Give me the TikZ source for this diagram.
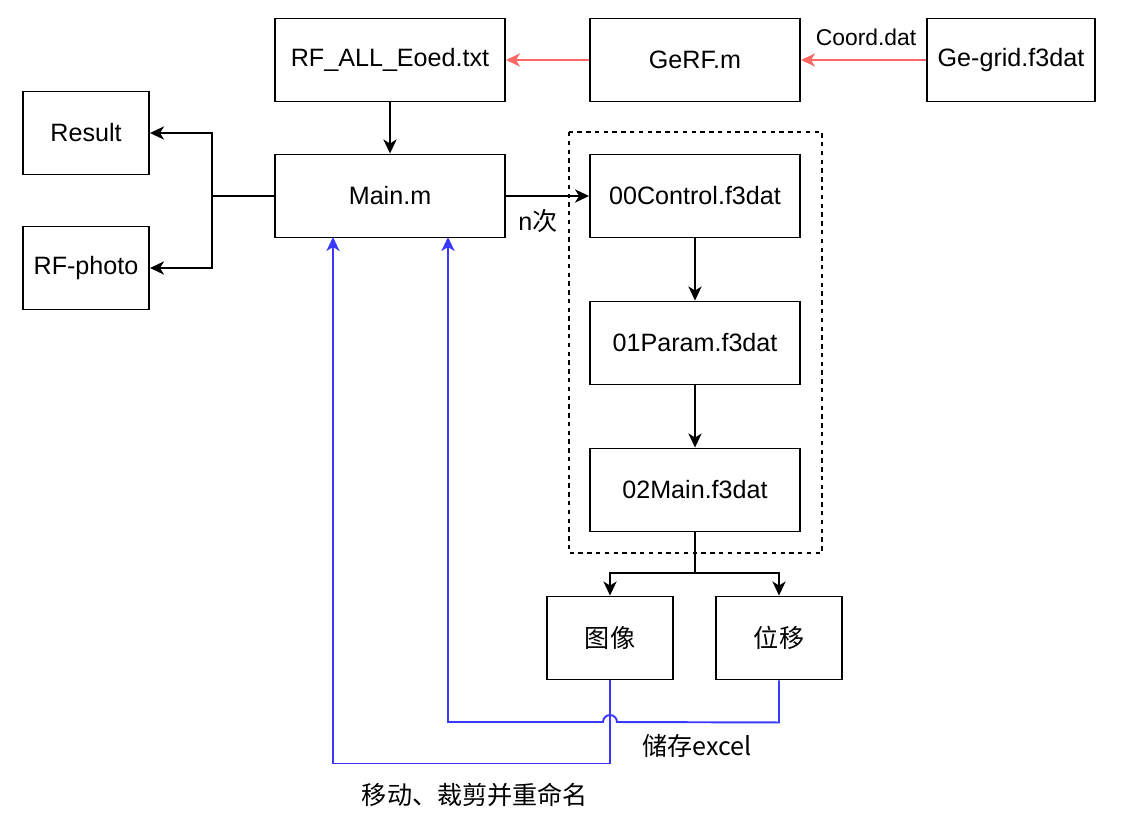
\documentclass[tikz,border=0pt]{standalone}
\usepackage{fontspec}
\setmainfont{Liberation Sans}
\newfontfamily\cjk{Noto Sans CJK SC}
\usetikzlibrary{arrows.meta}
\definecolor{linkred}{HTML}{FF6666}
\definecolor{linkblue}{HTML}{3838FF}

\begin{document}
\begin{tikzpicture}[
    x=0.02cm, y=-0.02cm,
    txt/.style={font=\fontsize{14.3}{17}\selectfont},
    box/.style={txt, draw, line width=1.1pt, inner sep=0pt, minimum height=1.66cm, minimum width=#1},
    arrow/.style={-{Stealth[length=8pt, width=7.5pt, inset=2.3pt]}, line width=1.1pt}
]
\useasboundingbox (0,0) rectangle (1121,829);

% top row
\node[box=4.6cm]  (rfall) at (390,60)  {RF\_ALL\_Eoed.txt};
\node[box=4.2cm]  (gerf)  at (695,60)  {GeRF.m};
\node[box=3.36cm] (grid)  at (1011,60) {Ge-grid.f3dat};

% left column
\node[box=2.52cm] (result) at (86,133) {Result};
\node[box=2.52cm] (photo)  at (86,268) {RF-photo};
\node[box=4.6cm]  (main)   at (390,196) {Main.m};

% loop body
\draw[dashed, dash pattern=on 2.5pt off 2.5pt, line width=1.1pt] (569,132) rectangle (822,553);
\node[box=4.2cm] (control) at (695,196) {00Control.f3dat};
\node[box=4.2cm] (param)   at (695,343) {01Param.f3dat};
\node[box=4.2cm] (mainf)   at (695,490) {02Main.f3dat};

% outputs
\node[box=2.52cm] (image) at (610,638) {\cjk 图像};
\node[box=2.52cm] (disp)  at (779,638) {\cjk 位移};

\coordinate (split) at (212,196);
\coordinate (fork)  at (695,573);
\coordinate (inL)   at (333,237);
\coordinate (inR)   at (448,237);

% red links
\draw[arrow, linkred] (gerf.west) -- (rfall.east);
\draw[arrow, linkred] (grid.west) -- (gerf.east);
\node[font=\fontsize{13}{15}\selectfont, fill=white, inner sep=1pt] (coord) at (866,37) {Coord.dat};

% black links
\draw[arrow] (rfall.south) -- (main.north);
\draw[line width=1.1pt] (main.west) -- (split);
\draw[arrow] (split) |- (result.east);
\draw[arrow] (split) |- (photo.east);
\draw[arrow] (main.east) -- (control.west);
\node[txt] (times) at (538,221) {n{\cjk 次}};
\draw[arrow] (control.south) -- (param.north);
\draw[arrow] (param.south) -- (mainf.north);
\draw[line width=1.1pt] (mainf.south) -- (fork);
\draw[arrow] (fork) -| (image.north);
\draw[arrow] (fork) -| (disp.north);

% blue links back to Main.m
\draw[arrow, linkblue] (image.south) -- ++(0,83) -| (inL);
\draw[arrow, linkblue] (disp.south) -- ++(0,42) -- (617,722)
    arc[start angle=0, end angle=-180, radius=7] -| (inR);
\node[txt] (store) at (697,746) {\cjk 储存excel};
\node[txt] (move)  at (475,795) {\cjk 移动、裁剪并重命名};

\end{tikzpicture}
\end{document}
